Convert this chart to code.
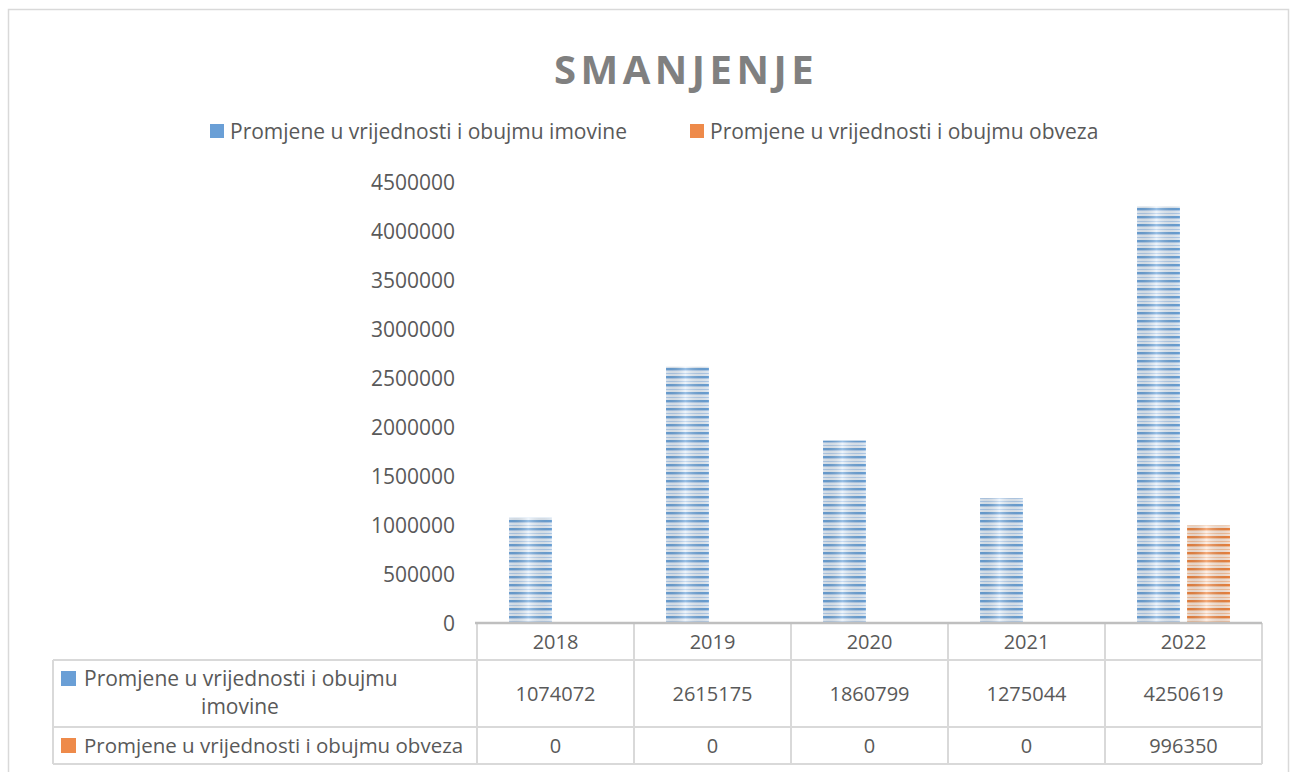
<!DOCTYPE html>
<html>
<head>
<meta charset="utf-8">
<script src="https://cdn.jsdelivr.net/npm/d3@7"></script>
<style>
  body { margin: 0; background: #fff; }
  text { font-family: 'Open Sans', sans-serif; fill: #595959; }
</style>
</head>
<body>
<div id="chart"></div>
<script>
const years = ['2018', '2019', '2020', '2021', '2022']
const seriesNames = [
  'Promjene u vrijednosti i obujmu imovine',
  'Promjene u vrijednosti i obujmu obveza'
]
const imovine = [1074072, 2615175, 1860799, 1275044, 4250619]
const obveze = [0, 0, 0, 0, 996350]
const yTicks = [0, 500000, 1000000, 1500000, 2000000, 2500000, 3000000, 3500000, 4000000, 4500000]

const width = 1295
const height = 772

const svg = d3
  .select('#chart')
  .append('svg')
  .attr('width', width)
  .attr('height', height)

// striped fills like the excel texture
const defs = svg.append('defs')
const fills = [
  { id: 'blue', light: '#e6f0fa', mid: '#b3cfee', dark: '#6ca4da' },
  { id: 'orange', light: '#fde8da', mid: '#f7c29c', dark: '#ef8540' }
]
fills.forEach(f => {
  const p = defs
    .append('pattern')
    .attr('id', 'stripe-' + f.id)
    .attr('patternUnits', 'userSpaceOnUse')
    .attr('width', 10)
    .attr('height', 8)
  p.append('rect').attr('width', 10).attr('height', 8).attr('fill', f.light)
  p.append('rect').attr('y', 0).attr('width', 10).attr('height', 2).attr('fill', f.dark)
  p.append('rect').attr('y', 2).attr('width', 10).attr('height', 1).attr('fill', f.mid)
  p.append('rect').attr('y', 5).attr('width', 10).attr('height', 1).attr('fill', f.mid)
})
const shade = defs
  .append('linearGradient')
  .attr('id', 'shade')
  .attr('x1', 0)
  .attr('x2', 1)
shade.append('stop').attr('offset', 0).attr('stop-color', '#000').attr('stop-opacity', 0.06)
shade.append('stop').attr('offset', 0.45).attr('stop-color', '#fff').attr('stop-opacity', 0.3)
shade.append('stop').attr('offset', 1).attr('stop-color', '#000').attr('stop-opacity', 0.03)

// outer frame
svg
  .append('rect')
  .attr('x', 8.5)
  .attr('y', 9.5)
  .attr('width', 1280)
  .attr('height', 800)
  .attr('fill', 'none')
  .attr('stroke', '#d9d9d9')
  .attr('stroke-width', 1.5)

svg
  .append('text')
  .attr('x', 686)
  .attr('y', 84)
  .attr('text-anchor', 'middle')
  .attr('font-size', 40)
  .attr('font-weight', 700)
  .attr('letter-spacing', 4.5)
  .style('fill', '#808080')
  .text('SMANJENJE')

// legend
const legendPos = [210, 690]
seriesNames.forEach((name, i) => {
  svg
    .append('rect')
    .attr('x', legendPos[i])
    .attr('y', 124)
    .attr('width', 14)
    .attr('height', 14)
    .attr('fill', i === 0 ? '#6a9fd6' : '#ee8a4a')
  svg
    .append('text')
    .attr('x', legendPos[i] + 20)
    .attr('y', 139)
    .attr('font-size', 21)
    .text(name)
})

const plotLeft = 477
const plotRight = 1262
const yScale = d3
  .scaleLinear()
  .domain([0, 4500000])
  .range([623, 182])

const x0 = d3
  .scaleBand()
  .domain(years)
  .range([plotLeft, plotRight])

const x1 = d3
  .scaleBand()
  .domain([0, 1])
  .range([0, x0.bandwidth()])
  .paddingInner(0.143)
  .paddingOuter(0.64)

// y axis labels
svg
  .selectAll('.ylab')
  .data(yTicks)
  .enter()
  .append('text')
  .attr('class', 'ylab')
  .attr('x', 455)
  .attr('y', d => yScale(d))
  .attr('dy', '0.36em')
  .attr('text-anchor', 'end')
  .attr('font-size', 21)
  .text(d => d)

// bars
const data = years.map((y, i) => ({ year: y, values: [imovine[i], obveze[i]] }))
const groups = svg
  .selectAll('.grp')
  .data(data)
  .enter()
  .append('g')
  .attr('transform', d => 'translate(' + x0(d.year) + ',0)')

groups
  .selectAll('rect.bar')
  .data(d => d.values.map((v, k) => ({ k, v })).filter(e => e.v > 0))
  .enter()
  .append('rect')
  .attr('class', 'bar')
  .attr('x', d => x1(d.k))
  .attr('width', x1.bandwidth())
  .attr('y', d => yScale(d.v))
  .attr('height', d => yScale(0) - yScale(d.v))
  .attr('fill', d => (d.k === 0 ? 'url(#stripe-blue)' : 'url(#stripe-orange)'))

groups
  .selectAll('rect.shade')
  .data(d => d.values.map((v, k) => ({ k, v })).filter(e => e.v > 0))
  .enter()
  .append('rect')
  .attr('class', 'shade')
  .attr('x', d => x1(d.k))
  .attr('width', x1.bandwidth())
  .attr('y', d => yScale(d.v))
  .attr('height', d => yScale(0) - yScale(d.v))
  .attr('fill', 'url(#shade)')

// data table
const rowY = [623, 660, 727, 764]
const tableLeft = 53
const grid = svg.append('g').attr('stroke', '#d9d9d9').attr('stroke-width', 2)
rowY.slice(1).forEach(y => {
  grid.append('line').attr('x1', tableLeft).attr('x2', plotRight).attr('y1', y).attr('y2', y)
})
grid.append('line').attr('x1', tableLeft).attr('x2', tableLeft).attr('y1', rowY[1]).attr('y2', rowY[3])
years.forEach(y => {
  grid.append('line').attr('x1', x0(y)).attr('x2', x0(y)).attr('y1', rowY[0]).attr('y2', rowY[3])
})
grid.append('line').attr('x1', plotRight).attr('x2', plotRight).attr('y1', rowY[0]).attr('y2', rowY[3])

// x axis line
svg
  .append('line')
  .attr('x1', plotLeft - 2)
  .attr('x2', plotRight)
  .attr('y1', 623)
  .attr('y2', 623)
  .attr('stroke', '#bfbfbf')
  .attr('stroke-width', 2.5)

svg
  .selectAll('.year')
  .data(years)
  .enter()
  .append('text')
  .attr('x', d => x0(d) + x0.bandwidth() / 2)
  .attr('y', 642)
  .attr('dy', '0.36em')
  .attr('text-anchor', 'middle')
  .attr('font-size', 20)
  .text(d => d)

const rowsData = [imovine, obveze]
const rowCenter = [694, 746]
rowsData.forEach((vals, r) => {
  svg
    .selectAll('.val' + r)
    .data(vals)
    .enter()
    .append('text')
    .attr('x', (d, i) => x0(years[i]) + x0.bandwidth() / 2)
    .attr('y', rowCenter[r])
    .attr('dy', '0.36em')
    .attr('text-anchor', 'middle')
    .attr('font-size', 20)
    .text(d => d)
})

// row labels with keys
svg.append('rect').attr('x', 61).attr('y', 671).attr('width', 15).attr('height', 15).attr('fill', '#6a9fd6')
svg.append('text').attr('x', 84).attr('y', 686).attr('font-size', 21).text('Promjene u vrijednosti i obujmu')
svg.append('text').attr('x', 240).attr('y', 714).attr('text-anchor', 'middle').attr('font-size', 21).text('imovine')
svg.append('rect').attr('x', 61).attr('y', 738).attr('width', 15).attr('height', 15).attr('fill', '#ee8a4a')
svg.append('text').attr('x', 84).attr('y', 753).attr('font-size', 20.5).text(seriesNames[1])
</script>
</body>
</html>
